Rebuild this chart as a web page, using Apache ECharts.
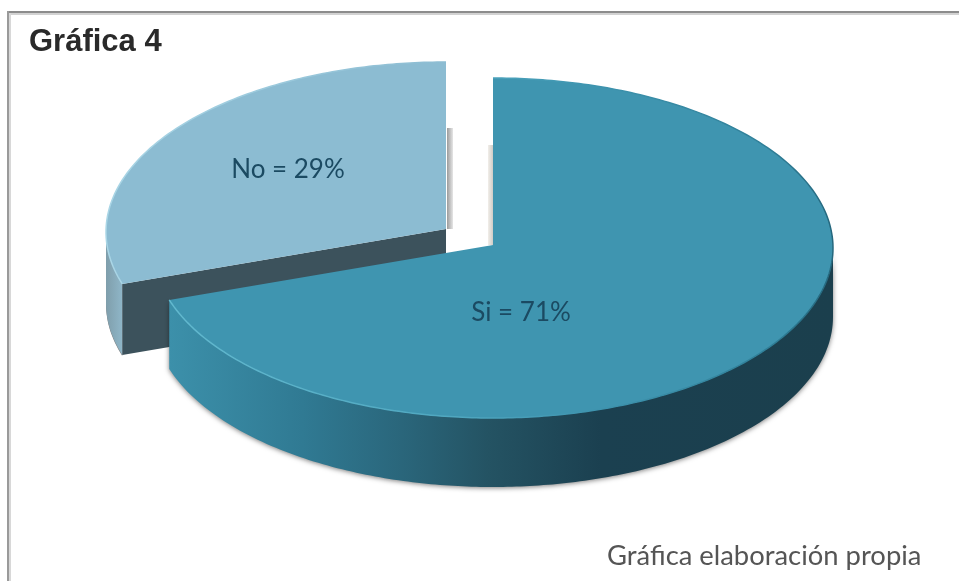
<!DOCTYPE html>
<html>
<head>
<meta charset="utf-8">
<style>html,body{margin:0;padding:0;background:#fff}#chart{width:959px;height:581px}</style>
<script src="https://cdn.jsdelivr.net/npm/echarts@6/dist/echarts.min.js"></script>
</head>
<body>
<div id="chart"></div>
<script>
// Survey answers, in drawing order around the disc starting at twelve o'clock.
const categories = ['Si', 'No'];
const values = [71, 29];
const chartTitle = 'Gráfica 4';
const sourceNote = 'Gráfica elaboración propia';

// Disc geometry of the tilted pie.
const disc = { cx: 493, cy: 248, rx: 340, ry: 170, depth: 69, apexLift: 3 };
// Per-slice look: where the slice sits relative to the disc and how it is painted.
const sliceStyles = [
  {
    offset: [0, 0], top: '#3f95b0', extraDepth: 0, z: 3,
    rim: [[0, '#62b9cf'], [0.45, '#4ea6bf'], [0.62, '#3f95b0'], [0.9, '#2f7f98'], [1, '#24667c']],
    wall: [[0, '#3c90aa'], [0.2, '#307a93'], [0.35, '#2a667b'], [0.48, '#245363'], [0.65, '#1b4050'], [1, '#1b3f4d']],
    labelAt: [28, 68], labelSize: 26
  },
  {
    offset: [-47, -16], top: '#8cbcd2', extraDepth: 2, z: 2,
    rim: [[0, '#aad6e6'], [1, '#8cbcd2']],
    wall: [[0, '#7f9eab'], [1, '#8fb6c8']],
    face: '#3c525c',
    labelAt: [-158, -59], labelSize: 26
  }
];

const DEG = Math.PI / 180;
const total = values.reduce((a, b) => a + b, 0);

// Clockwise angle from twelve o'clock, slightly eased to follow the tilt's foreshortening.
function rimPoint(angle, ox, oy, drop) {
  const t = (angle - 7 * Math.sin(2 * angle * DEG)) * DEG;
  return [disc.cx + ox + disc.rx * Math.sin(t), disc.cy + oy - disc.ry * Math.cos(t) + (drop || 0)];
}
function arc(from, to, ox, oy, drop) {
  const pts = [];
  const n = Math.max(2, Math.ceil(Math.abs(to - from)));
  for (let i = 0; i <= n; i++) pts.push(rimPoint(from + (to - from) * i / n, ox, oy, drop));
  return pts;
}
const hGrad = stops => new echarts.graphic.LinearGradient(0, 0, 1, 0,
  stops.map(s => ({ offset: s[0], color: s[1] })));

function renderSlice(i, api) {
  const value = api.value(0);
  const before = values.slice(0, i).reduce((a, b) => a + b, 0);
  const start = before / total * 360;
  const end = (before + value) / total * 360;
  const st = sliceStyles[i];
  const [ox, oy] = st.offset;
  const depth = disc.depth + st.extraDepth;
  const apex = [disc.cx + ox, disc.cy + oy - disc.apexLift];
  const children = [];

  // Outer wall: only the front half of the rim is visible.
  const wFrom = Math.max(start, 90), wTo = Math.min(end, 270);
  if (wTo > wFrom) {
    const topEdge = arc(wFrom, wTo, ox, oy);
    const botEdge = arc(wTo, wFrom, ox, oy, depth);
    children.push({
      type: 'polygon',
      shape: { points: topEdge.concat(botEdge) },
      style: { fill: hGrad(st.wall), shadowBlur: i === 0 ? 5 : 0, shadowColor: 'rgba(20,20,20,0.55)', shadowOffsetY: 1 }
    });
  }
  // Cut face along the slice's leading edge, shown only when it faces the viewer.
  if (st.face) {
    const a = rimPoint(start, ox, oy);
    children.push({
      type: 'polygon',
      shape: { points: [apex, a, [a[0], a[1] + depth], [apex[0], apex[1] + depth]] },
      style: { fill: st.face }
    });
  }
  // Thin sliver of the straight edge beside the vertical cut.
  const sliver = i === 0
    ? { x: apex[0] - 5, y: apex[1] - 100, width: 5, height: 100, stops: [[0, '#f2efea'], [1, '#cfcbc6']] }
    : { x: apex[0] + 1, y: apex[1] - 101, width: 6, height: 101, stops: [[0, '#9b9b9b'], [1, '#e6e6e6']] };
  children.push({
    type: 'rect',
    shape: { x: sliver.x, y: sliver.y, width: sliver.width, height: sliver.height },
    style: { fill: hGrad(sliver.stops) }
  });
  // Top surface.
  const rim = arc(start, end, ox, oy);
  children.push({
    type: 'polygon',
    shape: { points: [apex].concat(rim) },
    style: { fill: st.top }
  });
  children.push({
    type: 'polyline',
    shape: { points: rim },
    style: { stroke: hGrad(st.rim), lineWidth: 1.5, fill: null }
  });
  // Value label.
  children.push({
    type: 'text',
    style: {
      x: apex[0] + st.labelAt[0], y: apex[1] + st.labelAt[1],
      text: categories[i] + ' = ' + value + '%',
      font: st.labelSize + 'px Lato, "Noto Sans", sans-serif',
      fill: '#1b4a62', align: 'center', verticalAlign: 'middle'
    }
  });
  return { type: 'group', children };
}

const chart = echarts.init(document.getElementById('chart'), null, { renderer: 'canvas' });
chart.setOption({
  animation: false,
  backgroundColor: '#ffffff',
  title: {
    text: chartTitle, left: 29, top: 27, padding: 0,
    textStyle: { fontFamily: '"Liberation Sans", Arial, sans-serif', fontWeight: 'bold', fontSize: 31, color: '#2a2a2a' }
  },
  graphic: [
    // Frame: top and left rules of the panel.
    { type: 'rect', shape: { x: 7, y: 11, width: 952, height: 2 }, style: { fill: '#8c8c8c' }, z: 0 },
    { type: 'rect', shape: { x: 7, y: 13, width: 952, height: 2 }, style: { fill: '#d2d2d2' }, z: 0 },
    { type: 'rect', shape: { x: 7, y: 11, width: 2, height: 570 }, style: { fill: '#9a9a9a' }, z: 0 },
    { type: 'rect', shape: { x: 9, y: 13, width: 2, height: 568 }, style: { fill: '#d8d8d8' }, z: 0 },
    {
      type: 'text', left: 607, top: 543, z: 5,
      style: { text: sourceNote, font: '27.4px Lato, "Noto Sans", sans-serif', fill: '#555555' }
    }
  ],
  // One custom series per slice; the z order keeps the front slice over the back one.
  series: categories.map((name, i) => ({
    type: 'custom',
    name,
    coordinateSystem: 'none',
    z: sliceStyles[i].z,
    data: [{ value: [values[i]], name }],
    renderItem: (p, api) => renderSlice(i, api)
  }))
});
</script>
</body>
</html>
